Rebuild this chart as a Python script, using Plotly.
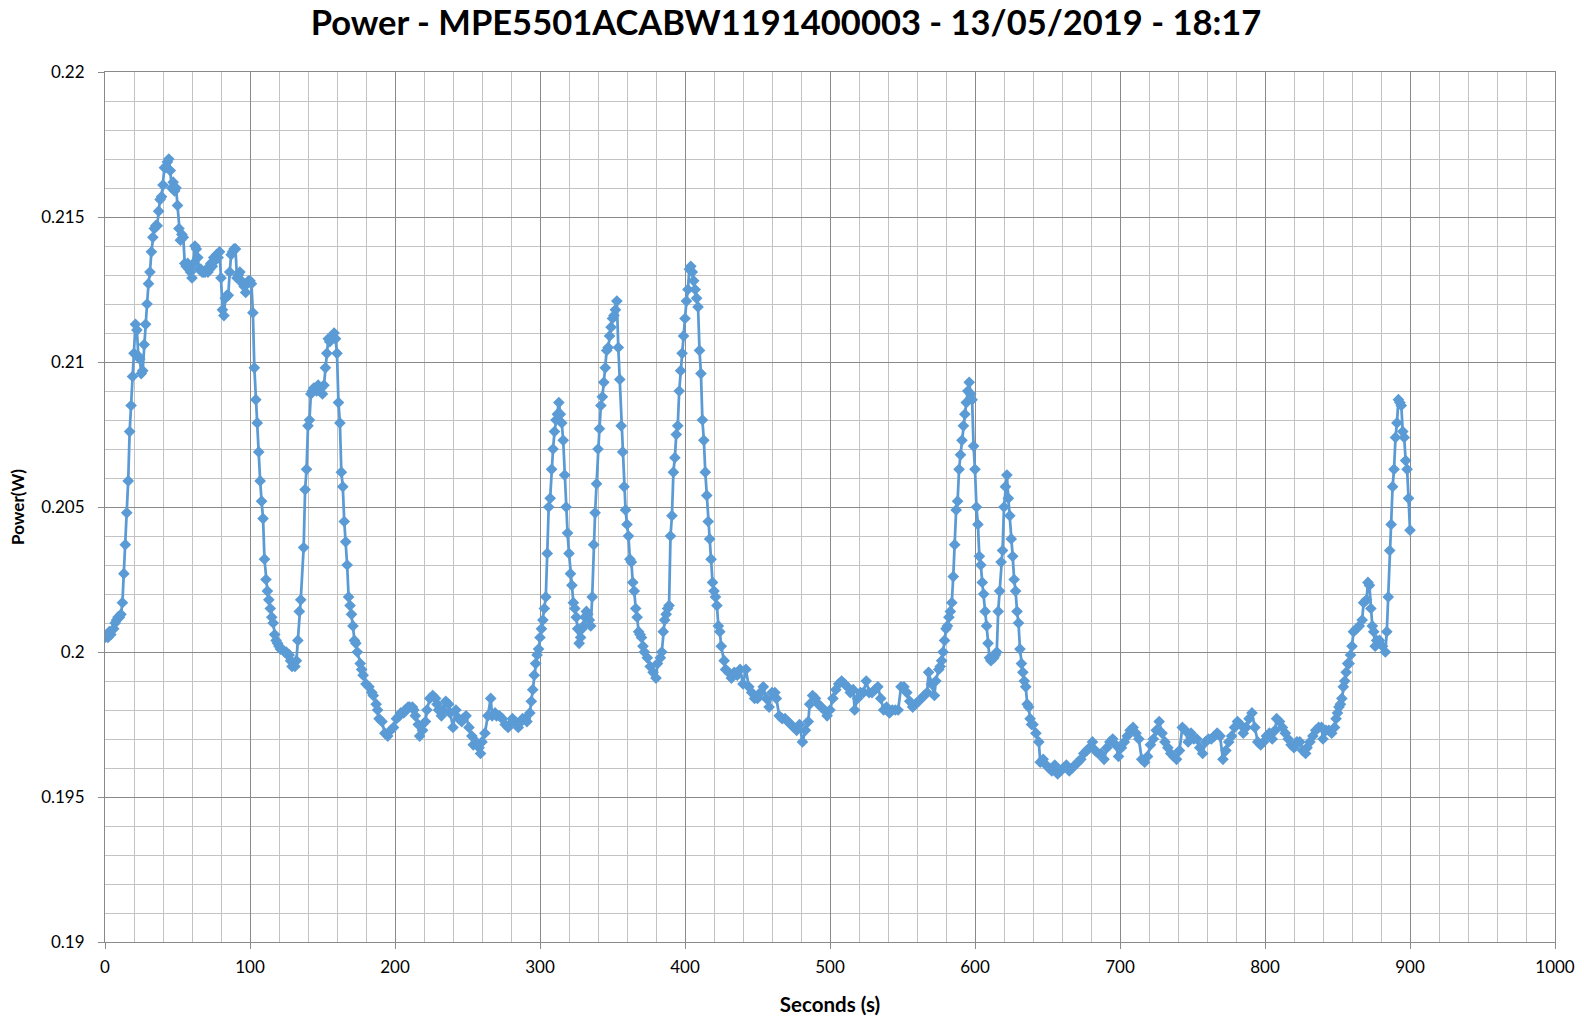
import plotly.graph_objects as go

title_text = "Power - MPE5501ACABW1191400003 - 13/05/2019 - 18:17"
x_title = "Seconds (s)"
y_title = "Power(W)"

x_tick_vals = [0, 100, 200, 300, 400, 500, 600, 700, 800, 900, 1000]
x_tick_text = ["0", "100", "200", "300", "400", "500", "600", "700", "800", "900", "1000"]
y_tick_vals = [0.19, 0.195, 0.2, 0.205, 0.21, 0.215, 0.22]
y_tick_text = ["0.19", "0.195", "0.2", "0.205", "0.21", "0.215", "0.22"]

# ---- segment A : 0 - 160 s ----
sec_a = [0, 1, 2, 3, 4, 6, 7, 8, 9, 10,
         11, 12, 13, 14, 15, 16, 17, 18, 19, 20,
         21, 22, 23, 24, 25, 26, 27, 28, 29, 30,
         31, 32, 33, 34, 35, 36, 37, 38, 39, 40,
         41, 42, 43, 44, 45, 46, 47, 48, 49, 50,
         51, 52, 53, 54, 55, 56, 57, 58, 59, 60,
         61, 62, 63, 64, 65, 66, 67, 68, 69, 70,
         71, 72, 73, 74, 75, 76, 77, 78, 79, 80,
         81, 82, 83, 84, 85, 86, 87, 88, 89, 90,
         91, 92, 93, 94, 95, 96, 97, 98, 99, 100,
         101, 102, 103, 104, 105, 106, 107, 108, 109, 110,
         111, 112, 113, 114, 115, 116, 117, 118, 119, 120,
         121, 122, 124, 125, 126, 127, 128, 129, 130, 131,
         132, 133, 134, 135, 137, 138, 139, 140, 141, 142,
         143, 144, 145, 146, 147, 148, 149, 150, 151, 152,
         153, 154, 155, 156, 157, 158, 159, 160]
pow_a = [.2005, .2006, .2005, .2007, .2006, .2008, .2010, .2011, .2012, .2012,
         .2013, .2017, .2027, .2037, .2048, .2059, .2076, .2085, .2095, .2103,
         .2113, .2111, .2102, .2101, .2096, .2097, .2106, .2113, .2120, .2127,
         .2131, .2138, .2143, .2146, .2147, .2147, .2152, .2156, .2157, .2161,
         .2167, .2167, .2169, .2170, .2166, .2160, .2162, .2159, .2160, .2154,
         .2146, .2142, .2144, .2143, .2134, .2133, .2134, .2132, .2131, .2129,
         .2134, .2140, .2139, .2136, .2132, .2132, .2131, .2131, .2131, .2132,
         .2131, .2132, .2134, .2133, .2136, .2135, .2137, .2136, .2138, .2129,
         .2118, .2116, .2122, .2123, .2123, .2131, .2137, .2138, .2139, .2139,
         .2129, .2130, .2131, .2128, .2127, .2126, .2124, .2127, .2128, .2128,
         .2127, .2117, .2098, .2087, .2079, .2069, .2059, .2052, .2046, .2032,
         .2025, .2021, .2018, .2015, .2012, .2010, .2006, .2004, .2003, .2002,
         .2001, .2001, .2000, .2000, .1999, .1999, .1997, .1995, .1996, .1995,
         .1997, .2004, .2014, .2018, .2036, .2056, .2063, .2078, .2080, .2089,
         .2090, .2091, .2091, .2090, .2092, .2090, .2091, .2089, .2092, .2098,
         .2103, .2108, .2107, .2108, .2109, .2110, .2108, .2103]

# ---- segment B : 161 - 300 s ----
sec_b = [161, 162, 163, 164, 165, 166, 167, 168, 169, 170,
         171, 172, 173, 174, 176, 177, 178, 180, 182, 184,
         185, 187, 188, 189, 191, 193, 195, 197, 199, 201,
         203, 204, 206, 207, 209, 210, 212, 213, 214, 216,
         217, 219, 221, 222, 224, 226, 228, 229, 230, 232,
         233, 235, 237, 238, 240, 242, 244, 246, 247, 249,
         251, 253, 254, 256, 258, 259, 260, 262, 264, 266,
         267, 269, 270, 272, 274, 276, 278, 279, 281, 283,
         285, 287, 288, 290, 291, 293, 294, 295, 296, 297,
         298, 299, 300]
pow_b = [.2086, .2079, .2062, .2057, .2045, .2038, .2030, .2019, .2016, .2013,
         .2009, .2004, .2003, .2000, .1996, .1994, .1992, .1989, .1988, .1986,
         .1985, .1982, .1980, .1977, .1976, .1972, .1971, .1973, .1974, .1977,
         .1978, .1979, .1979, .1980, .1981, .1981, .1981, .1980, .1978, .1975,
         .1971, .1973, .1976, .1980, .1984, .1985, .1984, .1982, .1980, .1978,
         .1980, .1983, .1982, .1979, .1974, .1980, .1977, .1976, .1977, .1978,
         .1974, .1971, .1968, .1969, .1967, .1965, .1969, .1972, .1978, .1984,
         .1978, .1979, .1978, .1978, .1977, .1975, .1974, .1975, .1977, .1976,
         .1974, .1976, .1977, .1977, .1976, .1979, .1983, .1987, .1992, .1996,
         .1999, .2001, .2005]

# ---- segment C : 301 - 450 s ----
sec_c = [301, 302, 303, 304, 305, 306, 307, 308, 309, 310,
         311, 312, 313, 314, 315, 316, 317, 318, 319, 320,
         321, 322, 323, 324, 325, 326, 327, 328, 329, 330,
         331, 332, 333, 334, 335, 336, 337, 338, 339, 340,
         341, 342, 343, 344, 345, 346, 347, 348, 349, 350,
         351, 352, 353, 354, 355, 356, 357, 358, 359, 360,
         361, 362, 363, 364, 365, 366, 367, 368, 369, 370,
         371, 372, 374, 376, 378, 380, 381, 383, 384, 385,
         386, 387, 388, 389, 390, 391, 392, 393, 394, 395,
         396, 397, 398, 399, 400, 401, 402, 403, 404, 405,
         406, 407, 408, 409, 410, 411, 412, 413, 414, 415,
         416, 417, 418, 419, 420, 421, 422, 423, 424, 425,
         427, 428, 430, 432, 434, 436, 438, 440, 442, 444,
         446, 448, 450]
pow_c = [.2008, .2011, .2015, .2019, .2034, .2050, .2053, .2063, .2070, .2076,
         .2080, .2082, .2086, .2082, .2079, .2073, .2061, .2050, .2041, .2034,
         .2027, .2023, .2017, .2015, .2012, .2008, .2003, .2005, .2008, .2009,
         .2012, .2014, .2013, .2011, .2009, .2019, .2037, .2048, .2058, .2070,
         .2077, .2085, .2088, .2093, .2098, .2104, .2105, .2109, .2112, .2115,
         .2116, .2118, .2121, .2105, .2094, .2078, .2069, .2057, .2049, .2044,
         .2040, .2032, .2031, .2024, .2021, .2015, .2012, .2007, .2006, .2005,
         .2002, .2000, .1998, .1995, .1993, .1991, .1996, .1998, .2000, .2007,
         .2011, .2013, .2015, .2016, .2040, .2047, .2062, .2067, .2075, .2078,
         .2090, .2097, .2103, .2109, .2115, .2121, .2125, .2132, .2133, .2131,
         .2128, .2125, .2122, .2119, .2104, .2096, .2080, .2073, .2062, .2054,
         .2045, .2039, .2032, .2024, .2021, .2019, .2016, .2009, .2007, .2002,
         .1997, .1994, .1993, .1991, .1993, .1992, .1994, .1989, .1994, .1988,
         .1986, .1984, .1984]

# ---- segment D : 452 - 600 s ----
sec_d = [452, 454, 456, 458, 460, 462, 463, 465, 467, 469,
         471, 473, 475, 477, 479, 481, 483, 485, 486, 488,
         490, 492, 494, 496, 498, 500, 502, 504, 506, 508,
         510, 512, 514, 516, 517, 519, 521, 523, 525, 527,
         529, 531, 533, 535, 537, 539, 541, 543, 545, 547,
         549, 551, 553, 555, 557, 559, 561, 563, 565, 567,
         568, 570, 572, 573, 575, 576, 577, 578, 579, 580,
         581, 582, 583, 584, 585, 586, 587, 588, 589, 590,
         591, 592, 593, 594, 595, 596, 597, 598, 599, 600]
pow_d = [.1986, .1988, .1984, .1981, .1986, .1986, .1984, .1978, .1977, .1977,
         .1976, .1975, .1974, .1973, .1975, .1969, .1973, .1976, .1982, .1985,
         .1984, .1982, .1981, .1980, .1978, .1980, .1984, .1987, .1989, .1990,
         .1989, .1988, .1986, .1987, .1980, .1984, .1986, .1986, .1990, .1986,
         .1986, .1987, .1988, .1984, .1980, .1981, .1979, .1980, .1980, .1980,
         .1988, .1988, .1986, .1983, .1981, .1982, .1983, .1984, .1985, .1986,
         .1993, .1989, .1985, .1990, .1994, .1995, .1997, .2000, .2004, .2008,
         .2009, .2012, .2014, .2017, .2026, .2037, .2049, .2052, .2063, .2068,
         .2073, .2078, .2082, .2086, .2090, .2093, .2089, .2087, .2071, .2063]

# ---- segment E : 601 - 749 s ----
sec_e = [601, 602, 603, 604, 605, 606, 607, 608, 609, 610,
         611, 613, 614, 615, 616, 617, 618, 619, 620, 621,
         622, 623, 624, 625, 626, 627, 628, 629, 630, 631,
         632, 633, 634, 635, 636, 637, 638, 639, 640,
         642, 644, 645, 647, 649, 651, 653, 655, 657, 659,
         661, 663, 665, 667, 669, 671, 673, 675, 677, 679,
         681, 683, 685, 687, 689, 691, 693, 695, 697, 699,
         701, 703, 705, 707, 709, 711, 713, 715, 717, 719,
         721, 723, 725, 727, 729, 731, 733, 735, 737, 739,
         741, 743, 745, 747, 749]
pow_e = [.2050, .2044, .2033, .2030, .2024, .2020, .2014, .2009, .2003, .1998,
         .1997, .1998, .1999, .2000, .2014, .2021, .2031, .2035, .2050, .2057,
         .2061, .2053, .2047, .2039, .2033, .2025, .2021, .2014, .2010, .2001,
         .1996, .1993, .1990, .1988, .1982, .1981, .1977, .1975, .1975,
         .1972, .1969, .1962, .1963, .1961, .1960, .1959, .1961, .1958, .1959,
         .1960, .1961, .1959, .1960, .1961, .1962, .1963, .1965, .1966, .1967,
         .1969, .1966, .1965, .1965, .1963, .1967, .1969, .1970, .1968, .1964,
         .1967, .1969, .1971, .1973, .1974, .1972, .1970, .1963, .1962, .1964,
         .1968, .1970, .1973, .1976, .1972, .1969, .1967, .1965, .1964, .1963,
         .1966, .1974, .1973, .1969, .1972]

# ---- segment F : 751 - 900 s ----
sec_f = [751, 753, 755, 757, 759, 761, 763, 765, 767, 769,
         771, 773, 775, 777, 779, 781, 783, 785, 787, 789,
         791, 793, 795, 797, 799, 801, 803, 805, 807, 808,
         810, 812, 814, 816, 818, 820, 822, 824, 826, 828,
         829, 831, 833, 835, 837, 839, 840, 842, 844, 846,
         848, 849, 850, 851, 852, 853, 854, 855, 856, 857,
         858, 859, 860, 861, 863, 865, 867, 868, 870, 871,
         872, 873, 874, 875, 876, 877, 879, 881, 883, 884,
         885, 886, 887, 888, 889, 890, 891, 892, 893, 894,
         895, 896, 897, 898, 899, 900]
pow_f = [.1970, .1970, .1967, .1965, .1969, .1970, .1970, .1971, .1972, .1971,
         .1963, .1966, .1969, .1971, .1974, .1976, .1975, .1972, .1974, .1977,
         .1979, .1974, .1969, .1968, .1969, .1971, .1972, .1970, .1973, .1977,
         .1976, .1974, .1972, .1970, .1968, .1967, .1969, .1969, .1966, .1965,
         .1967, .1969, .1971, .1973, .1974, .1974, .1970, .1973, .1973, .1972,
         .1974, .1977, .1979, .1981, .1982, .1984, .1988, .1990, .1993, .1996,
         .1996, .1999, .2002, .2007, .2008, .2009, .2011, .2017, .2018, .2024,
         .2023, .2015, .2009, .2007, .2002, .2004, .2004, .2002, .2000, .2007,
         .2019, .2035, .2044, .2057, .2063, .2074, .2079, .2087, .2086, .2085,
         .2076, .2074, .2066, .2063, .2053, .2042]

seconds = sec_a + sec_b + sec_c + sec_d + sec_e + sec_f
power_w = pow_a + pow_b + pow_c + pow_d + pow_e + pow_f
assert len(seconds) == len(power_w), (len(seconds), len(power_w))

BLUE = "#5B9BD5"
MAJOR = "#8A8A8A"
MINOR = "#C3C3C3"
FONT = "Lato"

FIG_W = 1584
FIG_H = 1020
M_L, M_R, M_T, M_B = 105, 29, 72, 78

fig = go.Figure(
    go.Scatter(
        x=seconds,
        y=power_w,
        mode="lines+markers",
        line=dict(color=BLUE, width=2.75),
        marker=dict(symbol="diamond", size=9, color=BLUE),
        showlegend=False,
        hoverinfo="x+y",
    )
)

fig.update_layout(
    width=FIG_W,
    height=FIG_H,
    margin=dict(l=M_L, r=M_R, t=M_T, b=M_B, autoexpand=False),
    paper_bgcolor="white",
    plot_bgcolor="white",
    font=dict(family=FONT, color="#000000", size=17),
    title=dict(
        text="<b>" + title_text + "</b>",
        font=dict(family=FONT, size=34.5, color="#000000"),
        x=786 / FIG_W,
        xanchor="center",
        y=1 - 23 / FIG_H,
        yanchor="middle",
        yref="container",
    ),
)

fig.update_xaxes(
    range=[0, 1000],
    tickmode="array",
    tickvals=x_tick_vals,
    ticktext=x_tick_text,
    showgrid=True,
    gridcolor=MAJOR,
    gridwidth=1,
    minor=dict(dtick=20, tick0=0, showgrid=True, gridcolor=MINOR, gridwidth=1),
    ticks="outside",
    ticklen=6,
    tickcolor=MAJOR,
    tickwidth=1,
    showline=True,
    linecolor=MAJOR,
    linewidth=1,
    mirror=True,
    zeroline=False,
    automargin=False,
    tickfont=dict(family=FONT, size=17, color="#000000"),
    ticklabelstandoff=4,
    title=dict(text="<b>" + x_title + "</b>", font=dict(family=FONT, size=20.5, color="#000000"), standoff=21),
)

fig.update_yaxes(
    range=[0.19, 0.22],
    tickmode="array",
    tickvals=y_tick_vals,
    ticktext=y_tick_text,
    showgrid=True,
    gridcolor=MAJOR,
    gridwidth=1,
    minor=dict(dtick=0.001, tick0=0.19, showgrid=True, gridcolor=MINOR, gridwidth=1),
    ticks="outside",
    ticklen=6,
    tickcolor=MAJOR,
    tickwidth=1,
    showline=True,
    linecolor=MAJOR,
    linewidth=1,
    mirror=True,
    zeroline=False,
    automargin=False,
    tickfont=dict(family=FONT, size=17, color="#000000"),
    ticklabelstandoff=10,
    title=dict(text="<b>" + y_title + "</b>", font=dict(family=FONT, size=17, color="#000000"), standoff=12),
)

# remove the browser's default 8px page margin so the figure fills the window exactly,
# and hide the interactive toolbar (the reference is a static chart)
fig.write_html(
    "out.html",
    config={"displayModeBar": False},
    post_script="document.body.style.margin='0';document.body.style.padding='0';",
)
